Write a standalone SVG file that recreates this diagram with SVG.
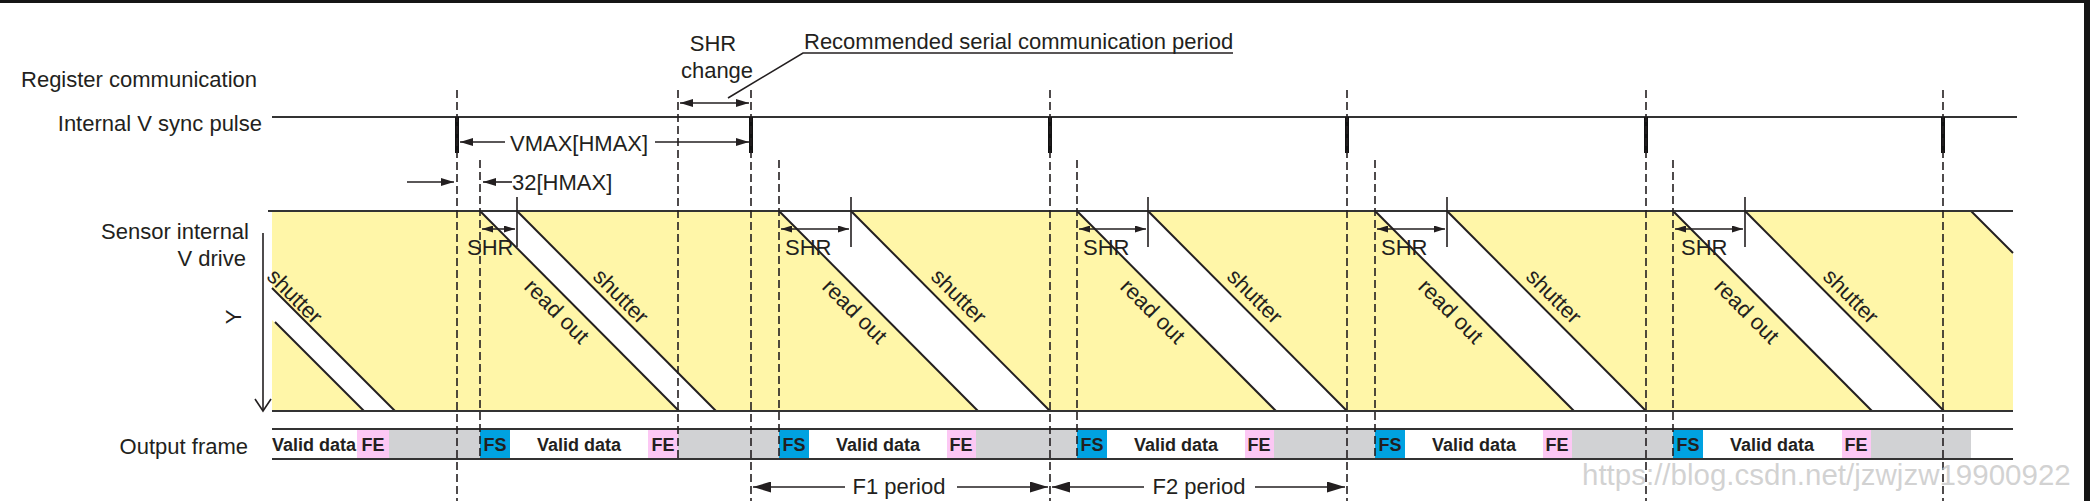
<svg xmlns="http://www.w3.org/2000/svg" width="2090" height="501" viewBox="0 0 2090 501">
<style>
.lbl{font-family:"Liberation Sans",Arial,sans-serif;font-size:22px;fill:#231f20}
.end{text-anchor:end}
.mid{text-anchor:middle}
.b{font-family:"Liberation Sans",Arial,sans-serif;font-size:18px;font-weight:bold;fill:#231f20;text-anchor:middle}
.hl{stroke:#333;stroke-width:2.2;fill:none}
.dash{stroke:#231f20;stroke-width:1.6;stroke-dasharray:8 4;fill:none}
.diag{stroke:#231f20;stroke-width:2;fill:none}
.arr{stroke:#231f20;stroke-width:1.6;fill:none}
.pulse{stroke:#111;stroke-width:4}
.band{fill:#ffffff}
.fs{fill:#00a2e1}
.fe{fill:#fcc8f4}
.gr{fill:#d1d2d4}
</style>
<defs>
<marker id="m1" markerUnits="userSpaceOnUse" markerWidth="13" markerHeight="8" refX="13" refY="4" orient="auto-start-reverse" viewBox="0 0 13 8"><path d="M0,0 L13,4 L0,8 z" fill="#231f20"/></marker>
<marker id="m2" markerUnits="userSpaceOnUse" markerWidth="11" markerHeight="7" refX="11" refY="3.5" orient="auto-start-reverse" viewBox="0 0 11 7"><path d="M0,0 L11,3.5 L0,7 z" fill="#231f20"/></marker>
<marker id="m3" markerUnits="userSpaceOnUse" markerWidth="18" markerHeight="11" refX="18" refY="5.5" orient="auto-start-reverse" viewBox="0 0 18 11"><path d="M0,0 L18,5.5 L0,11 z" fill="#231f20"/></marker>
</defs>

<rect x="0" y="0" width="2090" height="501" fill="#ffffff"/>
<rect x="0" y="0" width="2090" height="3" fill="#151515"/>
<rect x="2084" y="0" width="6" height="501" fill="#151515"/>

<!-- labels -->
<g id="labels">
<text class="lbl end" x="257" y="87">Register communication</text>
<text class="lbl end" x="262" y="131">Internal V sync pulse</text>
<text class="lbl end" x="249" y="239">Sensor internal</text>
<text class="lbl end" x="246" y="266">V drive</text>
<text class="lbl end" x="248" y="454">Output frame</text>
<text class="lbl mid" x="241" y="317" transform="rotate(-90 241 317)">Y</text>
</g>

<!-- sensor V drive area -->
<g id="vdrive">
<rect x="272" y="211" width="1741" height="200" fill="#fff6a8"/>
<polygon class="band" points="272,288 395,411 363,411 272,320"/>
<polygon class="band" points="480,211 517,211 716,411 679,411"/>
<polygon class="band" points="779,211 851,211 1050,411 978,411"/>
<polygon class="band" points="1077,211 1148,211 1347,411 1276,411"/>
<polygon class="band" points="1375,211 1447,211 1646,411 1574,411"/>
<polygon class="band" points="1673,211 1745,211 1944,411 1872,411"/>
<polygon class="band" points="1971,211 2013,211 2013,253"/>
<line class="diag" x1="272" y1="288" x2="395" y2="411"/>
<line class="diag" x1="275" y1="322" x2="364" y2="411"/>
<line class="diag" x1="480" y1="211" x2="679" y2="411"/>
<line class="diag" x1="517" y1="211" x2="716" y2="411"/>
<line class="diag" x1="779" y1="211" x2="978" y2="411"/>
<line class="diag" x1="851" y1="211" x2="1050" y2="411"/>
<line class="diag" x1="1077" y1="211" x2="1276" y2="411"/>
<line class="diag" x1="1148" y1="211" x2="1347" y2="411"/>
<line class="diag" x1="1375" y1="211" x2="1574" y2="411"/>
<line class="diag" x1="1447" y1="211" x2="1646" y2="411"/>
<line class="diag" x1="1673" y1="211" x2="1872" y2="411"/>
<line class="diag" x1="1745" y1="211" x2="1944" y2="411"/>
<line class="diag" x1="1971" y1="211" x2="2013" y2="253"/>
<line class="hl" x1="268" y1="211" x2="2013" y2="211"/>
<line class="hl" x1="272" y1="411" x2="2013" y2="411"/>
<line class="arr" x1="263" y1="233" x2="263" y2="410"/>
<polyline class="arr" points="255,399 263,411 271,399"/>
<text class="lbl" transform="translate(295 296) rotate(45)" text-anchor="middle" dy="0.35em" font-size="21">shutter</text>
<text class="lbl" transform="translate(557 311) rotate(45)" text-anchor="middle" dy="0.35em">read out</text>
<text class="lbl" transform="translate(621 296) rotate(45)" text-anchor="middle" dy="0.35em">shutter</text>
<text class="lbl" transform="translate(855 311) rotate(45)" text-anchor="middle" dy="0.35em">read out</text>
<text class="lbl" transform="translate(959 296) rotate(45)" text-anchor="middle" dy="0.35em">shutter</text>
<text class="lbl" transform="translate(1153 311) rotate(45)" text-anchor="middle" dy="0.35em">read out</text>
<text class="lbl" transform="translate(1255 296) rotate(45)" text-anchor="middle" dy="0.35em">shutter</text>
<text class="lbl" transform="translate(1451 311) rotate(45)" text-anchor="middle" dy="0.35em">read out</text>
<text class="lbl" transform="translate(1554 296) rotate(45)" text-anchor="middle" dy="0.35em">shutter</text>
<text class="lbl" transform="translate(1747 311) rotate(45)" text-anchor="middle" dy="0.35em">read out</text>
<text class="lbl" transform="translate(1851 296) rotate(45)" text-anchor="middle" dy="0.35em">shutter</text>
</g>

<!-- output frame row -->
<g id="output">
<rect class="gr" x="389" y="430" width="91" height="28"/>
<rect class="fe" x="357" y="430" width="32" height="28"/>
<rect class="fs" x="480" y="430" width="30" height="28"/>
<rect class="fe" x="648" y="430" width="30" height="28"/>
<rect class="gr" x="678" y="430" width="101" height="28"/>
<rect class="fs" x="779" y="430" width="30" height="28"/>
<rect class="fe" x="947" y="430" width="29" height="28"/>
<rect class="gr" x="976" y="430" width="101" height="28"/>
<rect class="fs" x="1077" y="430" width="30" height="28"/>
<rect class="fe" x="1245" y="430" width="29" height="28"/>
<rect class="gr" x="1274" y="430" width="101" height="28"/>
<rect class="fs" x="1375" y="430" width="30" height="28"/>
<rect class="fe" x="1543" y="430" width="29" height="28"/>
<rect class="gr" x="1572" y="430" width="101" height="28"/>
<rect class="fs" x="1673" y="430" width="30" height="28"/>
<rect class="fe" x="1842" y="430" width="29" height="28"/>
<rect class="gr" x="1871" y="430" width="100" height="28"/>
<line class="hl" x1="272" y1="429" x2="2013" y2="429"/>
<line class="hl" x1="272" y1="459" x2="2013" y2="459"/>
<text class="b" x="314" y="451">Valid data</text>
<text class="b" x="373" y="451">FE</text>
<text class="b" x="495" y="451">FS</text>
<text class="b" x="579" y="451">Valid data</text>
<text class="b" x="663" y="451">FE</text>
<text class="b" x="794" y="451">FS</text>
<text class="b" x="878" y="451">Valid data</text>
<text class="b" x="961" y="451">FE</text>
<text class="b" x="1092" y="451">FS</text>
<text class="b" x="1176" y="451">Valid data</text>
<text class="b" x="1259" y="451">FE</text>
<text class="b" x="1390" y="451">FS</text>
<text class="b" x="1474" y="451">Valid data</text>
<text class="b" x="1557" y="451">FE</text>
<text class="b" x="1688" y="451">FS</text>
<text class="b" x="1772" y="451">Valid data</text>
<text class="b" x="1856" y="451">FE</text>
</g>

<!-- V sync -->
<g id="vsync">
<line class="hl" x1="272" y1="117" x2="2017" y2="117"/>
<line class="pulse" x1="457" y1="117" x2="457" y2="153"/>
<line class="pulse" x1="751" y1="117" x2="751" y2="153"/>
<line class="pulse" x1="1050" y1="117" x2="1050" y2="153"/>
<line class="pulse" x1="1347" y1="117" x2="1347" y2="153"/>
<line class="pulse" x1="1646" y1="117" x2="1646" y2="153"/>
<line class="pulse" x1="1943" y1="117" x2="1943" y2="153"/>
</g>

<!-- connectors / dimension lines -->
<g id="connectors">
<line class="dash" x1="457" y1="90" x2="457" y2="501"/>
<line class="dash" x1="751" y1="90" x2="751" y2="501"/>
<line class="dash" x1="1050" y1="90" x2="1050" y2="501"/>
<line class="dash" x1="1347" y1="90" x2="1347" y2="501"/>
<line class="dash" x1="1646" y1="90" x2="1646" y2="501"/>
<line class="dash" x1="1943" y1="90" x2="1943" y2="501"/>
<line class="dash" x1="678" y1="90" x2="678" y2="459"/>
<line class="dash" x1="480" y1="160" x2="480" y2="459"/>
<line class="dash" x1="779" y1="160" x2="779" y2="459"/>
<line class="dash" x1="1077" y1="160" x2="1077" y2="459"/>
<line class="dash" x1="1375" y1="160" x2="1375" y2="459"/>
<line class="dash" x1="1673" y1="160" x2="1673" y2="459"/>

<!-- SHR change arrow -->
<line class="arr" x1="680" y1="103" x2="749" y2="103" marker-start="url(#m1)" marker-end="url(#m1)"/>
<!-- recommended leader -->
<polyline class="arr" points="728,98 803,53 1233,53"/>
<!-- VMAX -->
<line class="arr" x1="505" y1="142" x2="460" y2="142" marker-end="url(#m1)"/>
<line class="arr" x1="655" y1="142" x2="749" y2="142" marker-end="url(#m1)"/>
<!-- 32 HMAX -->
<line class="arr" x1="407" y1="182" x2="454" y2="182" marker-end="url(#m1)"/>
<line class="arr" x1="512" y1="182" x2="483" y2="182" marker-end="url(#m1)"/>
<!-- SHR ticks and arrows -->
<line class="arr" x1="517" y1="197" x2="517" y2="247"/>
<line class="arr" x1="482" y1="229" x2="515" y2="229" marker-start="url(#m2)" marker-end="url(#m2)"/>
<line class="arr" x1="851" y1="197" x2="851" y2="247"/>
<line class="arr" x1="781" y1="229" x2="849" y2="229" marker-start="url(#m2)" marker-end="url(#m2)"/>
<line class="arr" x1="1148" y1="197" x2="1148" y2="247"/>
<line class="arr" x1="1079" y1="229" x2="1146" y2="229" marker-start="url(#m2)" marker-end="url(#m2)"/>
<line class="arr" x1="1447" y1="197" x2="1447" y2="247"/>
<line class="arr" x1="1377" y1="229" x2="1445" y2="229" marker-start="url(#m2)" marker-end="url(#m2)"/>
<line class="arr" x1="1745" y1="197" x2="1745" y2="247"/>
<line class="arr" x1="1675" y1="229" x2="1743" y2="229" marker-start="url(#m2)" marker-end="url(#m2)"/>
<!-- F periods -->
<line class="arr" x1="845" y1="487" x2="753" y2="487" marker-end="url(#m3)"/>
<line class="arr" x1="957" y1="487" x2="1048" y2="487" marker-end="url(#m3)"/>
<line class="arr" x1="1144" y1="487" x2="1052" y2="487" marker-end="url(#m3)"/>
<line class="arr" x1="1255" y1="487" x2="1345" y2="487" marker-end="url(#m3)"/>
</g>

<g id="annotations">
<text class="lbl mid" x="713" y="51">SHR</text>
<text class="lbl mid" x="717" y="78">change</text>
<text class="lbl" x="804" y="49">Recommended serial communication period</text>
<text class="lbl" x="510" y="151">VMAX[HMAX]</text>
<text class="lbl" x="512" y="190">32[HMAX]</text>
<text class="lbl" x="467" y="255">SHR</text>
<text class="lbl" x="785" y="255">SHR</text>
<text class="lbl" x="1083" y="255">SHR</text>
<text class="lbl" x="1381" y="255">SHR</text>
<text class="lbl" x="1681" y="255">SHR</text>
<text class="lbl mid" x="899" y="494">F1 period</text>
<text class="lbl mid" x="1199" y="494">F2 period</text>
<text x="1582" y="485" font-family="'Liberation Sans',Arial,sans-serif" font-size="29.5" fill="#c4c4c4" fill-opacity="0.75">https://blog.csdn.net/jzwjzw19900922</text>
</g>
</svg>
